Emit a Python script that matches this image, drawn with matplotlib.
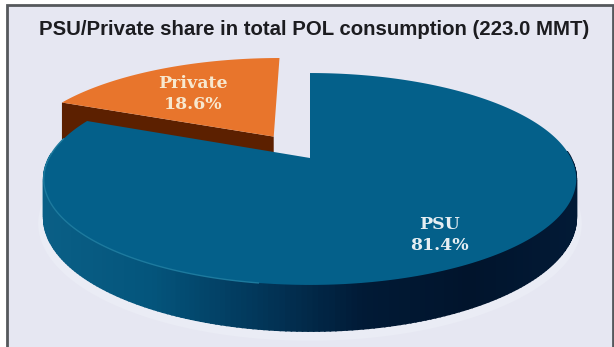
import numpy as np
import matplotlib
matplotlib.use("Agg")
import matplotlib.pyplot as plt
from matplotlib.colors import LinearSegmentedColormap

titulo = "PSU/Private share in total POL consumption (223.0 MMT)"
categorias = ["Private", "PSU"]
valores = [18.6, 81.4]
colores_sup = ["#e8752c", "#04608a"]

# perspectiva de la torta (pixeles de la imagen)
X0, Y0 = 310, 158
C, A, B = 261, 101.8, 0.198
ALTO = 37
EXPLODE = 0.263

def proyectar(u, v, z=0):
    den = 1 + B * v
    return X0 + C * u / den, Y0 - (A * v - z) / den

fig = plt.figure(figsize=(6.14, 3.47), dpi=100, facecolor="white")
ax = fig.add_axes([0, 0, 1, 1])
ax.set_xlim(0, 614)
ax.set_ylim(347, 0)
ax.axis("off")

# fondo y marco
ax.fill([7, 613, 613, 7], [5, 5, 348, 348], facecolor="#e6e7f2", edgecolor="#55585c", linewidth=2, zorder=0)

cmap_azul = LinearSegmentedColormap.from_list("lado", ["#0a5f86", "#04557c", "#02375a", "#011a36", "#01142c", "#021a36"])

angulos = np.cumsum([0] + valores) / 100 * 360 + 90
medio = np.deg2rad((angulos[0] + angulos[1]) / 2)
du, dv = EXPLODE * np.cos(medio), EXPLODE * np.sin(medio)

# halo claro debajo de la torta, solo en la parte de abajo
t = np.deg2rad(np.linspace(180, 360, 200))
hx, hy = proyectar(1.02 * np.cos(t), 1.02 * np.sin(t), ALTO + 5)
ax.fill(hx, hy, color="#eaecf5", lw=0, zorder=0.5)

# rebanada private
t = np.deg2rad(np.linspace(angulos[0], angulos[1], 80))
bx, by = proyectar(np.r_[du, du + np.cos(t)[-1]], np.r_[dv, dv + np.sin(t)[-1]])
bx2, by2 = proyectar(np.r_[du, du + np.cos(t)[-1]], np.r_[dv, dv + np.sin(t)[-1]], ALTO + 4)
ax.fill(np.r_[bx, bx2[::-1]], np.r_[by, by2[::-1]], color="#5c2000", lw=0, zorder=1)
px, py = proyectar(np.r_[du, du + np.cos(t)], np.r_[dv, dv + np.sin(t)])
ax.fill(px, py, color=colores_sup[0], lw=0, zorder=2)

# rebanada PSU: lado con degradado y tapa
t = np.deg2rad(np.linspace(angulos[1], angulos[2], 300))
for i in range(len(t) - 1):
    if np.sin(t[i]) > 0.05:
        continue
    tt = t[i:i + 2]
    x1, y1 = proyectar(np.cos(tt), np.sin(tt))
    x2, y2 = proyectar(np.cos(tt), np.sin(tt), ALTO)
    col = cmap_azul(np.clip((x1.mean() - 45) / 532, 0, 1))
    ax.fill(np.r_[x1, x2[::-1]], np.r_[y1, y2[::-1]], color=col, lw=1.2, zorder=3)
px, py = proyectar(np.r_[0, np.cos(t)], np.r_[0, np.sin(t)])
ax.fill(px, py, color=colores_sup[1], lw=0, zorder=4)

# brillo del borde izquierdo
sel = (np.cos(t) < -0.15) & (np.sin(t) < 0.2)
rx, ry = proyectar(np.cos(t[sel]), np.sin(t[sel]))
ax.plot(rx, ry, color="#1d7a9e", lw=1, zorder=5)

ax.text(314, 29, titulo, ha="center", va="center", fontsize=14.7, fontweight="bold",
        family="Liberation Sans", color="#1c1c20", zorder=6)

ax.text(193, 94, f"{categorias[0]}\n{valores[0]}%", ha="center", va="center", fontsize=12.5, fontweight="bold",
        family="DejaVu Serif", color="#f7e8cf", linespacing=1.25, zorder=6)
ax.text(439, 235, f"{categorias[1]}\n{valores[1]}%", ha="center", va="center", fontsize=12.5, fontweight="bold",
        family="DejaVu Serif", color="#e6eef2", linespacing=1.25, zorder=6)

fig.savefig("out.png", dpi=100)
